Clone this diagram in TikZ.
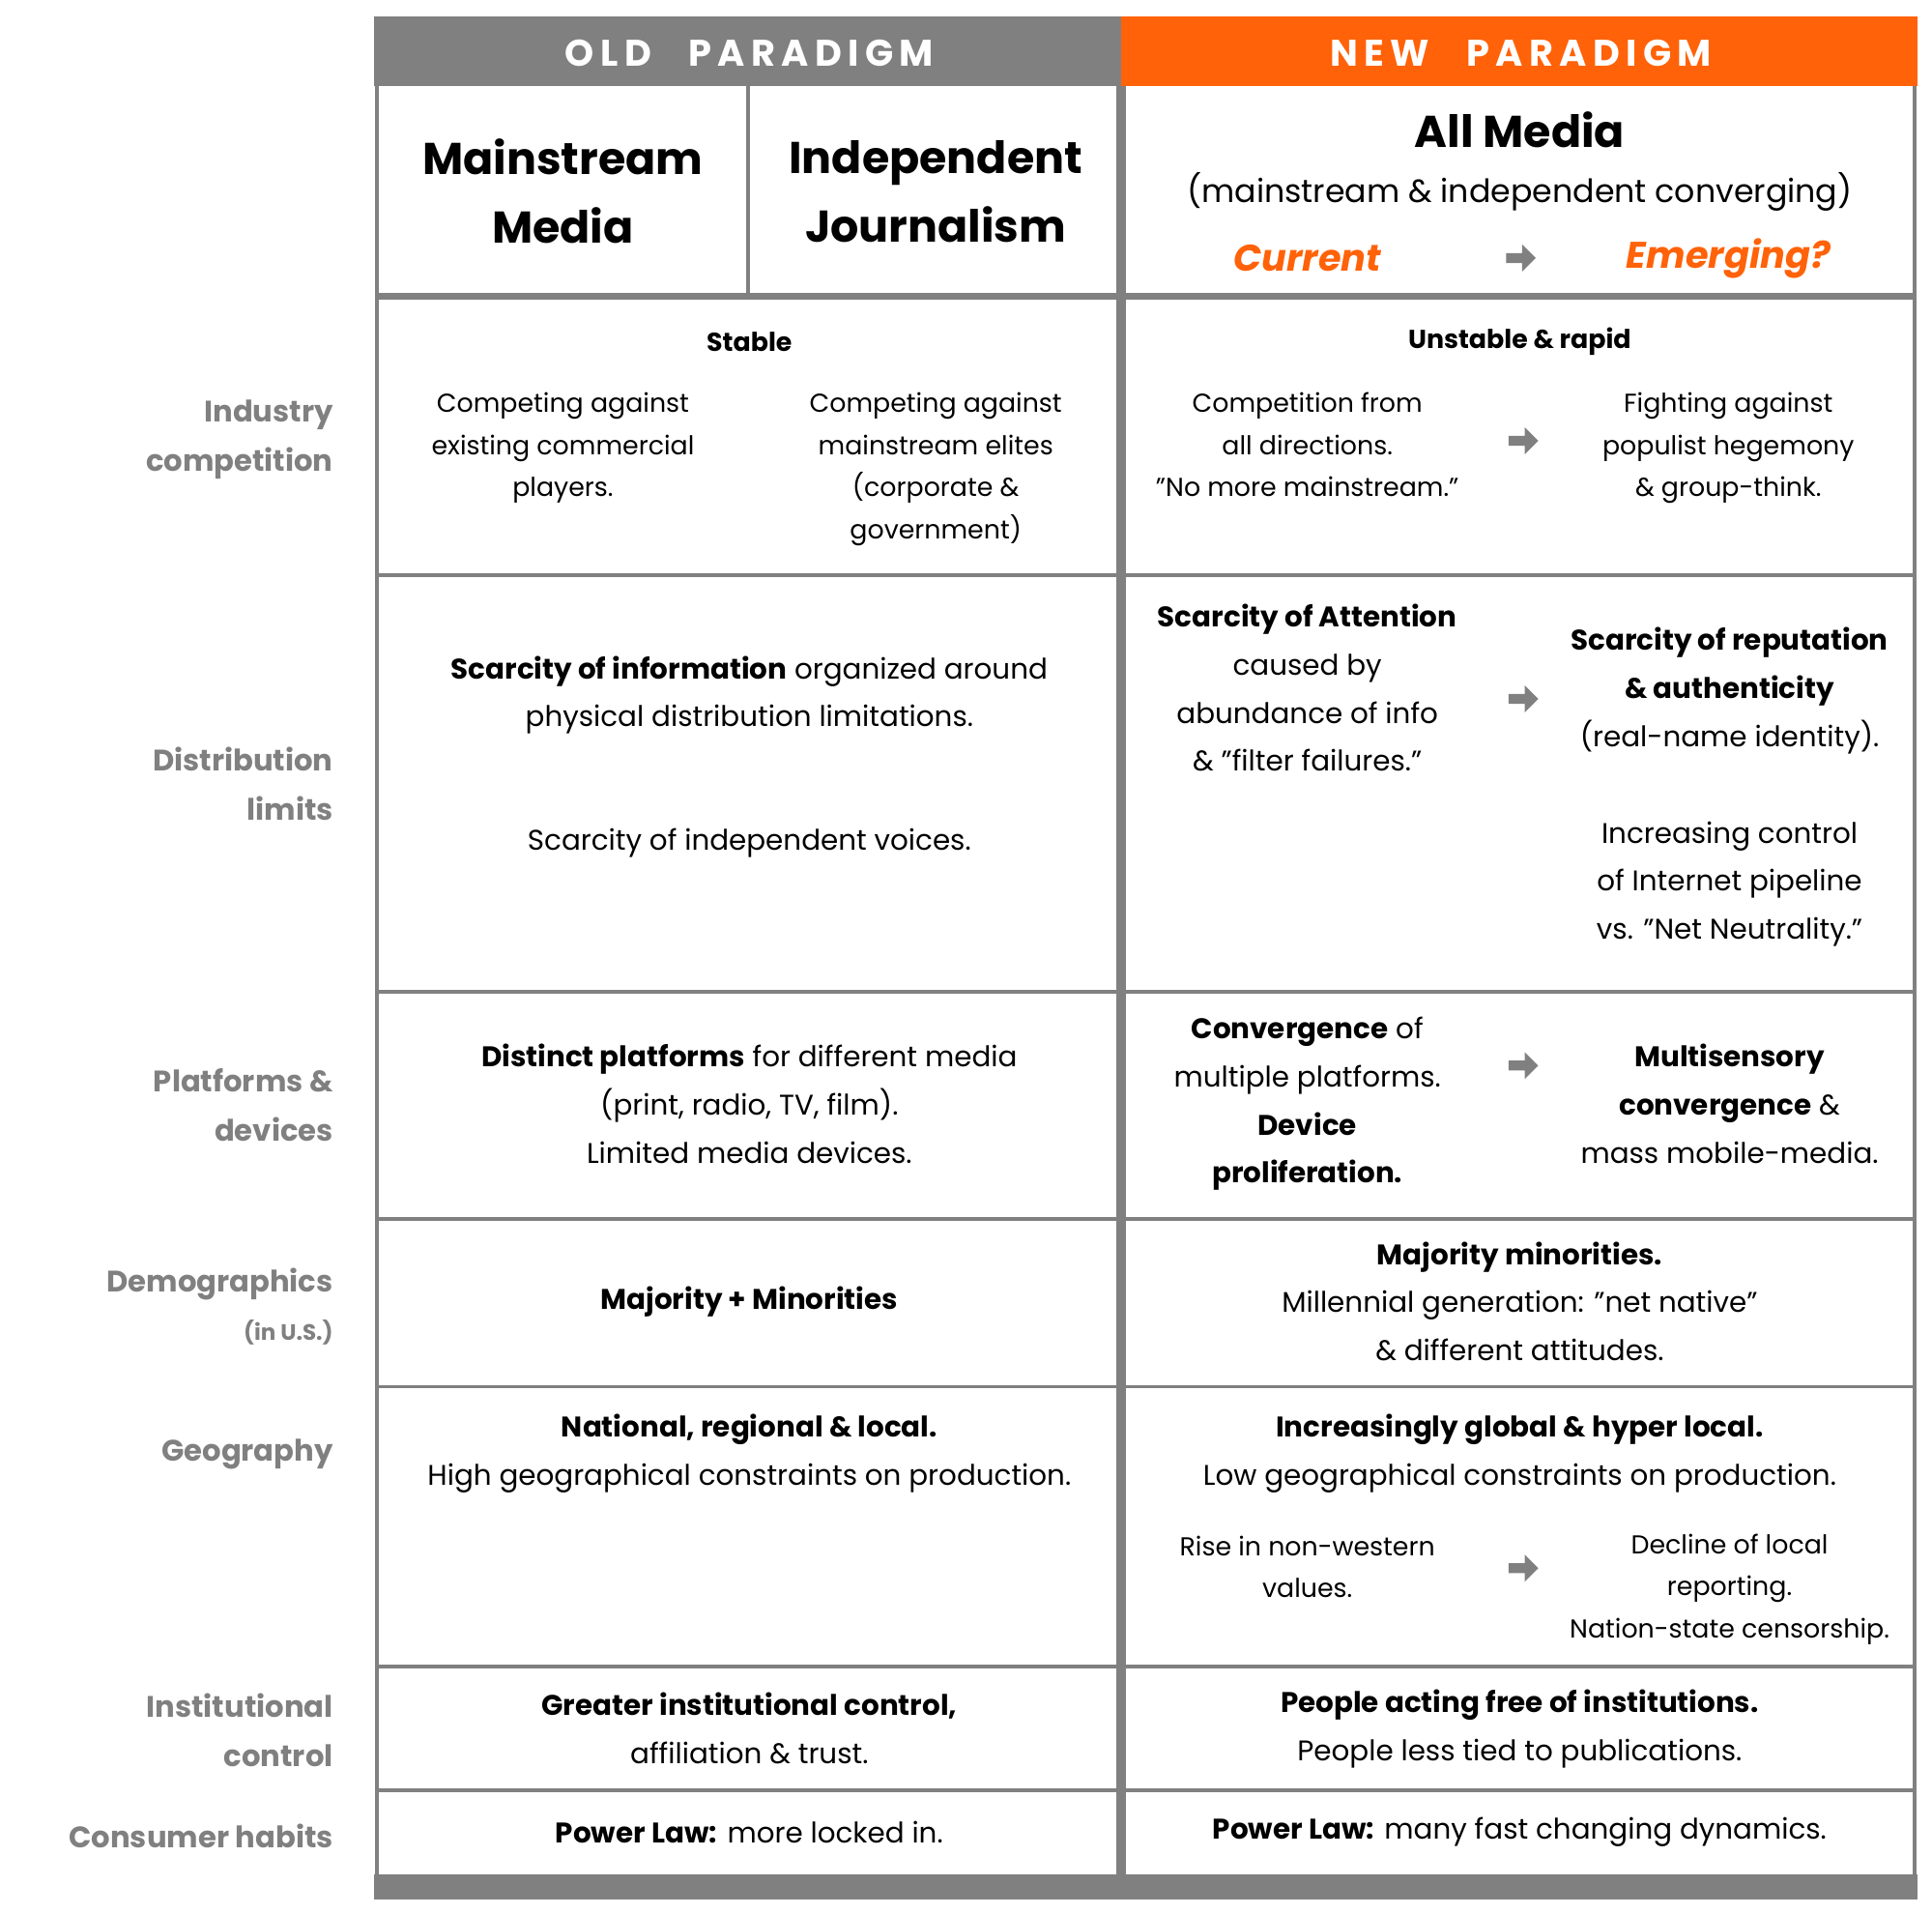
\documentclass[tikz,border=0pt]{standalone}
\usepackage{fontspec}
\setmainfont{Poppins}
\definecolor{pg}{HTML}{808080}
\definecolor{po}{HTML}{FF6208}
\tikzset{
 body/.style={font=\fontsize{21}{34}\selectfont, align=center, inner sep=0},
 small/.style={font=\fontsize{19}{31}\selectfont, align=center, inner sep=0},
 lab/.style={font=\fontsize{24}{40}\bfseries\selectfont, text=pg, align=right, anchor=east, inner sep=0},
 rule/.style={pg, line width=3pt},
 arr/.style={fill=pg},
}
\newcommand{\garrow}[2]{\fill[pg] (#1-11,#2-4) -- (#1+2,#2-4) -- (#1+2,#2-11) -- (#1+13,#2) -- (#1+2,#2+11) -- (#1+2,#2+4) -- (#1-11,#2+4) -- cycle;}
\begin{document}
\begin{tikzpicture}[x=1pt,y=-1pt]
\useasboundingbox (0,0) rectangle (1565,1550);
\fill[white] (0,0) rectangle (1565,1550);
% header
\fill[pg] (303,13) rectangle (908,70);
\fill[po] (908,13) rectangle (1553,70);
\node[font=\fontsize{30}{30}\bfseries\selectfont, text=white] (old) at (607,43) {O\,L\,D\quad P\,A\,R\,A\,D\,I\,G\,M};
\node[font=\fontsize{30}{30}\bfseries\selectfont, text=white] (new) at (1232,43) {N\,E\,W\quad P\,A\,R\,A\,D\,I\,G\,M};
% frame
\fill[pg] (303,1518) rectangle (1553,1538);
\draw[rule] (305,70) -- (305,1518);
\draw[rule] (1551,70) -- (1551,1518);
\draw[pg, line width=8pt] (908,70) -- (908,1518);
\draw[rule] (606,70) -- (606,240);
\draw[pg, line width=6pt] (305,240) -- (1551,240);
\foreach \y in {466,803,987,1123,1350,1450} \draw[rule] (305,\y) -- (1551,\y);
% column heads
\node[font=\fontsize{36}{56}\bfseries\selectfont, align=center] (mm) at (456,155) {Mainstream\\Media};
\node[font=\fontsize{36}{56}\bfseries\selectfont, align=center] (ij) at (758,155) {Independent\\Journalism};
\node[font=\fontsize{36}{40}\bfseries\selectfont] (all) at (1231,105) {All Media};
\node[font=\fontsize{26}{30}\selectfont] (conv) at (1231,155) {(mainstream \& independent converging)};
\node[font=\fontsize{30}{30}\bfseries\itshape\selectfont, text=po] (cur) at (1059,209) {Current};
\node[font=\fontsize{30}{30}\bfseries\itshape\selectfont, text=po] (em) at (1400,209) {Emerging?};
\garrow{1231}{209}
% labels
\node[lab] (l1) at (270,356) {Industry\\competition};
\node[lab] (l2) at (270,635) {Distribution\\limits};
\node[lab] (l3) at (270,895) {Platforms \&\\devices};
\node[lab] (l4) at (270,1040) {Demographics};
\node[lab, font=\fontsize{18}{20}\bfseries\selectfont] (l4b) at (270,1079) {(in U.S.)};
\node[lab] (l5) at (270,1178) {Geography};
\node[lab] (l6) at (270,1401) {Institutional\\control};
\node[lab] (l7) at (270,1487) {Consumer habits};
% row 1
\node[body, font=\fontsize{21}{34}\bfseries\selectfont] (s) at (607,277) {Stable};
\node[body, anchor=north] (c1) at (456,318) {Competing against\\existing commercial\\players.};
\node[body, anchor=north] (c2) at (758,318) {Competing against\\mainstream elites\\(corporate \&\\government)};
\node[body, font=\fontsize{21}{34}\bfseries\selectfont] (u) at (1231,277) {Unstable \& rapid};
\node[body, anchor=north] (c3) at (1059,318) {Competition from\\all directions.\\"No more mainstream."};
\node[body, anchor=north] (c4) at (1400,318) {Fighting against\\populist hegemony\\\& group-think.};
\garrow{1233}{357}
% row 2
\node[body, font=\fontsize{23}{39}\selectfont] (d1) at (607,563) {\textbf{Scarcity of information} organized around\\physical distribution limitations.};
\node[body, font=\fontsize{23}{39}\selectfont] (d2) at (607,683) {Scarcity of independent voices.};
\node[body, font=\fontsize{23}{39}\selectfont, anchor=north] (d3) at (1059,489) {\textbf{Scarcity of Attention}\\caused by\\abundance of info\\\& "filter failures."};
\node[body, font=\fontsize{23}{39}\selectfont, anchor=north] (d4) at (1401,508) {\textbf{Scarcity of reputation}\\\textbf{\& authenticity}\\(real-name identity).};
\node[body, font=\fontsize{23}{39}\selectfont, anchor=north] (d5) at (1401,665) {Increasing control\\of Internet pipeline\\vs. "Net Neutrality."};
\garrow{1233}{566}
% row 3
\node[body, font=\fontsize{23}{39}\selectfont] (p1) at (607,894) {\textbf{Distinct platforms} for different media\\(print, radio, TV, film).\\Limited media devices.};
\node[body, font=\fontsize{23}{39}\selectfont] (p2) at (1059,894) {\textbf{Convergence} of\\multiple platforms.\\\textbf{Device}\\\textbf{proliferation.}};
\node[body, font=\fontsize{23}{39}\selectfont] (p3) at (1401,894) {\textbf{Multisensory}\\\textbf{convergence} \&\\mass mobile-media.};
\garrow{1233}{863}
% row 4
\node[body, font=\fontsize{23}{39}\bfseries\selectfont] (m1) at (607,1054) {Majority + Minorities};
\node[body, font=\fontsize{23}{39}\selectfont] (m2) at (1231,1054) {\textbf{Majority minorities.}\\Millennial generation: "net native"\\\& different attitudes.};
% row 5
\node[body, font=\fontsize{23}{39}\selectfont] (g1) at (607,1177) {\textbf{National, regional \& local.}\\High geographical constraints on production.};
\node[body, font=\fontsize{23}{39}\selectfont] (g2) at (1231,1177) {\textbf{Increasingly global \& hyper local.}\\Low geographical constraints on production.};
\node[body] (g3) at (1059,1269) {Rise in non-western\\values.};
\node[body] (g4) at (1401,1287) {Decline of local\\reporting.\\Nation-state censorship.};
\garrow{1233}{1270}
% row 6
\node[body, font=\fontsize{23}{39}\selectfont] (i1) at (607,1400) {\textbf{Greater institutional control,}\\affiliation \& trust.};
\node[body, font=\fontsize{23}{39}\selectfont] (i2) at (1231,1400) {\textbf{People acting free of institutions.}\\People less tied to publications.};
% row 7
\node[body, font=\fontsize{23}{39}\selectfont] (h1) at (607,1484) {\textbf{Power Law:} more locked in.};
\node[body, font=\fontsize{23}{39}\selectfont] (h2) at (1231,1484) {\textbf{Power Law:} many fast changing dynamics.};
\end{tikzpicture}
\end{document}
